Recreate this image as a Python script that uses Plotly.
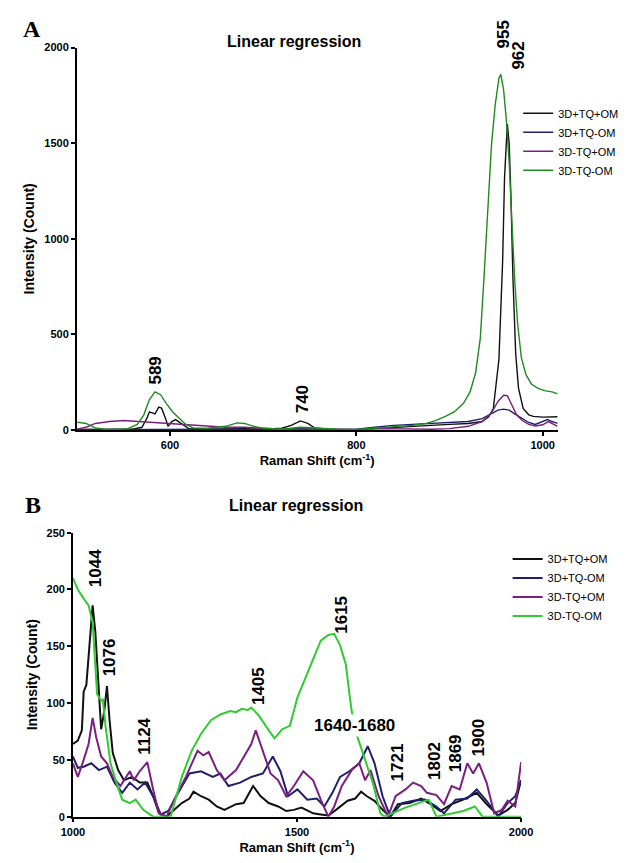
import plotly.graph_objects as go

W, H = 628, 863

names = ["3D+TQ+OM", "3D+TQ-OM", "3D-TQ+OM", "3D-TQ-OM"]
colors_a = ["#111111", "#1f1f6e", "#7a1f80", "#1f8a1f"]
colors_b = ["#111111", "#1f1f6e", "#7a1f80", "#2fcc2f"]

# ---------------- Panel A (500-1016 cm-1) ----------------
a_black_x = [500, 520, 540, 560, 570, 575, 578, 581, 584, 588, 591, 595, 598, 602, 606, 612, 620, 640, 680, 700,
             720, 730, 740, 748, 755, 770, 800, 820, 840, 860, 880, 900, 920, 935, 942, 947, 953, 957, 959, 962,
             964, 966, 968, 971, 974, 979, 985, 990, 1000, 1016]
a_black_y = [3, 5, 5, 5, 15, 60, 95, 90, 85, 120, 115, 65, 20, 45, 55, 35, 8, 5, 8, 5,
             10, 25, 48, 35, 12, 5, 2, 8, 15, 20, 25, 30, 35, 45, 70, 113, 370, 887, 1316, 1600,
             1500, 1200, 800, 400, 220, 113, 80, 72, 68, 70]

a_navy_x = [500, 540, 580, 620, 660, 700, 740, 780, 800, 820, 840, 860, 880, 900, 920, 935, 945, 952, 958, 964,
            970, 978, 985, 992, 1000, 1005, 1010, 1016]
a_navy_y = [2, 3, 5, 3, 5, 2, 8, 3, 5, 15, 25, 30, 35, 40, 45, 60, 85, 105, 110, 105,
            85, 60, 40, 30, 45, 55, 45, 35]

a_mag_x = [500, 510, 520, 535, 550, 565, 580, 600, 620, 640, 660, 680, 700, 720, 760, 800, 830, 860, 880, 900,
           920, 935, 945, 952, 958, 962, 967, 972, 978, 985, 992, 1000, 1006, 1012, 1016]
a_mag_y = [5, 15, 35, 45, 50, 45, 40, 33, 25, 18, 15, 15, 10, 5, 3, 3, 8, 5, 5, 8,
           20, 45, 90, 150, 182, 180, 130, 80, 50, 30, 22, 28, 45, 30, 20]

a_green_x = [500, 510, 520, 530, 545, 555, 565, 572, 578, 584, 590, 596, 603, 610, 617, 625, 640, 660, 672, 680,
             690, 700, 720, 740, 760, 780, 800, 820, 840, 860, 875, 885, 895, 905, 915, 922, 928, 933, 937, 941,
             945, 949, 953, 955, 958, 961, 964, 967, 970, 973, 977, 982, 988, 995, 1003, 1010, 1016]
a_green_y = [42, 35, 12, 5, 3, 8, 30, 80, 160, 200, 185, 140, 95, 60, 30, 12, 10, 20, 38, 35,
             20, 10, 5, 15, 8, 5, 3, 10, 20, 25, 35, 50, 70, 95, 140, 200, 300, 480, 800, 1150,
             1490, 1700, 1840, 1860, 1780, 1620, 1400, 1080, 780, 560, 380, 290, 240, 218, 205, 200, 190]

# ---------------- Panel B (1000-2000 cm-1) ----------------
b_black_x = [1000, 1011, 1020, 1024, 1030, 1037, 1044, 1050, 1057, 1063, 1070, 1076, 1082, 1089, 1101, 1114, 1132,
             1149, 1166, 1179, 1192, 1209, 1226, 1243, 1260, 1269, 1286, 1303, 1321, 1338, 1364, 1381, 1402, 1419,
             1437, 1458, 1476, 1493, 1510, 1536, 1553, 1570, 1587, 1613, 1630, 1643, 1656, 1673, 1691, 1708, 1725,
             1751, 1777, 1794, 1820, 1845, 1871, 1901, 1923, 1949, 1970, 1987, 2000]
b_black_y = [64, 67, 76, 110, 116, 151, 186, 163, 110, 77, 93, 115, 84, 56, 41, 32, 35,
             30, 30, 18, 3, 0, 6, 12, 16, 22, 18, 15, 9, 6, 11, 12, 27, 18,
             12, 9, 5, 6, 8, 3, 2, 1, 6, 14, 16, 22, 18, 14, 6, 0, 11,
             12, 16, 12, 5, 11, 15, 21, 11, 1, 6, 12, 32]

b_navy_x = [1000, 1011, 1024, 1041, 1058, 1076, 1093, 1110, 1127, 1144, 1161, 1179, 1196, 1213, 1235, 1260, 1286,
            1312, 1329, 1347, 1373, 1398, 1424, 1446, 1463, 1480, 1501, 1523, 1544, 1561, 1579, 1596, 1617, 1639,
            1658, 1673, 1691, 1708, 1734, 1759, 1785, 1811, 1828, 1854, 1880, 1901, 1923, 1949, 1970, 1987, 2000]
b_navy_y = [53, 43, 44, 47, 41, 44, 30, 21, 30, 24, 30, 18, 2, 5, 21, 38, 40,
            35, 38, 27, 30, 35, 38, 53, 40, 18, 24, 15, 16, 9, 21, 35, 40, 47,
            62, 47, 18, 0, 12, 14, 15, 9, 3, 15, 16, 24, 14, 0, 12, 18, 32]

b_mag_x = [1000, 1011, 1024, 1035, 1044, 1052, 1063, 1076, 1089, 1106, 1127, 1136, 1149, 1166, 1179, 1192, 1209,
           1226, 1252, 1278, 1291, 1303, 1321, 1338, 1364, 1381, 1398, 1408, 1424, 1441, 1458, 1476, 1493, 1514,
           1536, 1553, 1570, 1583, 1600, 1622, 1639, 1652, 1664, 1682, 1703, 1720, 1742, 1759, 1777, 1790, 1811,
           1828, 1845, 1863, 1880, 1893, 1906, 1923, 1940, 1957, 1970, 1987, 2000]
b_mag_y = [47, 35, 50, 64, 87, 70, 53, 47, 35, 27, 40, 32, 40, 48, 24, 3, 0,
           15, 35, 58, 54, 57, 41, 32, 41, 53, 64, 76, 58, 38, 32, 18, 27, 40,
           32, 15, 0, 9, 27, 41, 47, 32, 41, 18, 0, 18, 24, 30, 27, 21, 19,
           11, 27, 24, 47, 38, 47, 30, 3, 6, 14, 9, 48]

b_green_x = [1000, 1011, 1024, 1035, 1044, 1050, 1054, 1063, 1067, 1073, 1084, 1097, 1110, 1127, 1140, 1157, 1179,
             1218, 1243, 1265, 1286, 1308, 1329, 1351, 1364, 1377, 1390, 1398, 1415, 1437, 1450, 1467, 1484, 1501,
             1519, 1536, 1553, 1570, 1583, 1596, 1609, 1617, 1622, 1635, 1652, 1669, 1686, 1695, 1742, 1794, 1811,
             1845, 1871, 1897, 1914, 1950, 2000]
b_green_y = [210, 200, 192, 186, 171, 137, 108, 102, 103, 79, 47, 30, 15, 12, 15, 6, 0,
             0, 35, 58, 73, 85, 90, 93, 92, 95, 94, 96, 89, 76, 69, 77, 80, 105,
             122, 139, 155, 160, 161, 151, 134, 108, 93, 70, 50, 30, 3, 0, 8, 15, 0,
             3, 5, 9, 0, 0, 0]

# Peak labels
a_labels = ["955", "962", "589", "740"]
b_labels = ["1044", "1076", "1124", "1405", "1615", "1721", "1802", "1869", "1900"]
b_range_label = "1640-1680"

# ---------------- Figure ----------------
fig = go.Figure()

a_series = [(a_black_x, a_black_y), (a_navy_x, a_navy_y), (a_mag_x, a_mag_y), (a_green_x, a_green_y)]
b_series = [(b_black_x, b_black_y), (b_navy_x, b_navy_y), (b_mag_x, b_mag_y), (b_green_x, b_green_y)]

for (xs, ys), nm, c in zip(a_series, names, colors_a):
    fig.add_trace(go.Scatter(x=xs, y=ys, mode="lines", name=nm, line=dict(color=c, width=1.4),
                             xaxis="x", yaxis="y", legend="legend"))
for (xs, ys), nm, c in zip(b_series, names, colors_b):
    fig.add_trace(go.Scatter(x=xs, y=ys, mode="lines", name=nm, line=dict(color=c, width=2),
                             xaxis="x2", yaxis="y2", legend="legend2"))

def px(x):
    return x / W

def py(y):
    return 1 - y / H

FONT = "Liberation Sans, Arial, sans-serif"
tickfont = dict(family=FONT, size=11, color="black", weight="bold")
axis_common = dict(showgrid=False, zeroline=False, showline=True, linecolor="black", linewidth=1.5,
                   ticks="outside", ticklen=4, tickwidth=1.5, tickcolor="black", tickfont=tickfont)

fig.update_layout(
    width=W, height=H, margin=dict(l=0, r=0, t=0, b=0),
    paper_bgcolor="white", plot_bgcolor="white",
    showlegend=True,
    xaxis=dict(domain=[px(59), px(559)], range=[500, 1016], tickvals=[600, 800, 1000], anchor="y",
               title=dict(text="Raman Shift (cm<sup>-1</sup>)", standoff=6,
                          font=dict(family=FONT, size=13, color="black", weight="bold")), **axis_common),
    yaxis=dict(domain=[py(422), py(34)], range=[0, 2000], tickvals=[0, 500, 1000, 1500, 2000], anchor="x",
               title=dict(text="Intensity (Count)", standoff=6,
                          font=dict(family=FONT, size=14, color="black", weight="bold")), **axis_common),
    xaxis2=dict(domain=[px(55), px(521)], range=[1000, 2000], tickvals=[1000, 1500, 2000], anchor="y2",
                title=dict(text="Raman Shift (cm<sup>-1</sup>)", standoff=6,
                           font=dict(family=FONT, size=13, color="black", weight="bold")), **axis_common),
    yaxis2=dict(domain=[py(814), py(526)], range=[0, 250], tickvals=[0, 50, 100, 150, 200, 250], anchor="x2",
                title=dict(text="Intensity (Count)", standoff=6,
                           font=dict(family=FONT, size=14, color="black", weight="bold")), **axis_common),
    legend=dict(x=px(518), y=py(86), xanchor="left", yanchor="top", bgcolor="rgba(0,0,0,0)",
                font=dict(family=FONT, size=11, color="black")),
    legend2=dict(x=px(507), y=py(538), xanchor="left", yanchor="top", bgcolor="rgba(0,0,0,0)",
                 font=dict(family=FONT, size=11, color="black")),
)

ann = []
# Panel letters and titles
ann.append(dict(text="<b>A</b>", x=px(12), y=py(15), font=dict(family="Liberation Serif, Times New Roman, serif", size=24, color="black")))
ann.append(dict(text="<b>B</b>", x=px(14), y=py(498), font=dict(family="Liberation Serif, Times New Roman, serif", size=24, color="black")))
ann.append(dict(text="<b>Linear regression</b>", x=px(285), y=py(28), font=dict(family=FONT, size=16, color="black")))
ann.append(dict(text="<b>Linear regression</b>", x=px(287), y=py(498), font=dict(family=FONT, size=16, color="black")))

a_pos = [(503, 21), (518, 42), (141, 362), (294, 391)]
for t, (x, y) in zip(a_labels, a_pos):
    ann.append(dict(text="<b>" + t + "</b>", x=px(x), y=py(y), textangle=-90,
                    font=dict(family=FONT, size=17, color="black")))
b_pos = [(78, 562), (94, 652), (130, 733), (248, 682), (334, 609), (392, 759), (431, 758), (453, 750), (477, 734)]
for t, (x, y) in zip(b_labels, b_pos):
    ann.append(dict(text="<b>" + t + "</b>", x=px(x), y=py(y), textangle=-90,
                    font=dict(family=FONT, size=17, color="black")))
ann.append(dict(text="<b>" + b_range_label + "</b>", x=px(348), y=py(722), bgcolor="white",
                font=dict(family=FONT, size=17, color="black")))

for a in ann:
    a.update(xref="paper", yref="paper", showarrow=False, xanchor="center", yanchor="middle")
fig.update_layout(annotations=ann)

fig.write_html("out.html")
